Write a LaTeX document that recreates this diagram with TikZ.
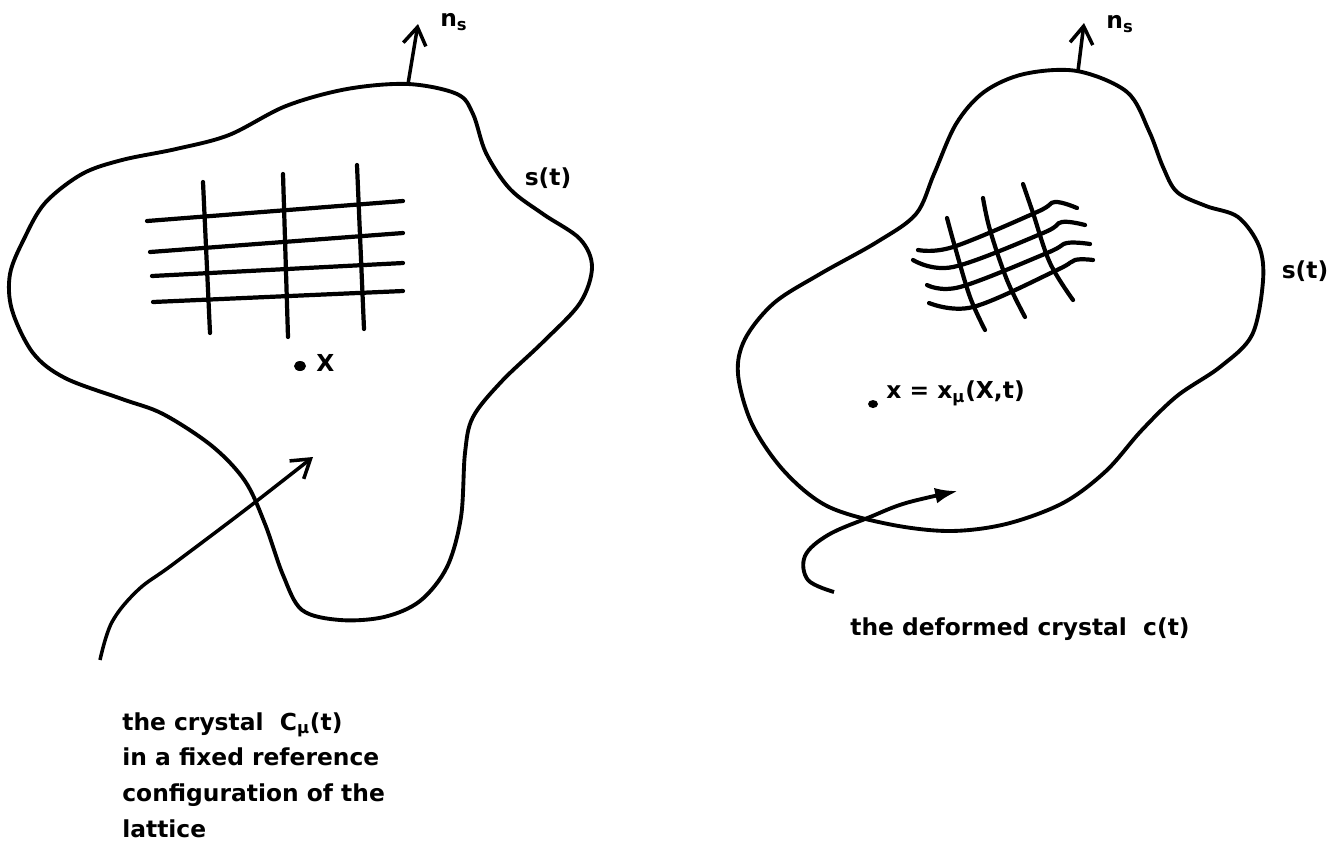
\documentclass[tikz,border=0pt]{standalone}
\usepackage{fontspec}
\setmainfont{DejaVu Sans}
\usetikzlibrary{arrows.meta}
\begin{document}
\begin{tikzpicture}[
    x=0.02cm,y=-0.02cm,
    outline/.style={line width=2.2pt,line join=round},
    gridline/.style={line width=2.4pt,line cap=round},
    pointer/.style={line width=2pt,-{Straight Barb[length=10pt,width=13pt,line width=2pt]}},
    lbl/.style={font=\bfseries\fontsize{13.3}{20.4}\selectfont,inner sep=0pt,align=left},
    >=stealth
]
\useasboundingbox (0,0) rectangle (1342,850);

% reference crystal
\draw[outline] plot[smooth cycle,tension=0.55] coordinates {
  (408,84) (457,94) (473,114) (486,153) (510,189) (543,214) (580,239)
  (592,267) (580,303) (543,342) (502,381) (473,417) (465,453) (461,517)
  (447,567) (420,601) (384,617) (340,620) (302,610) (283,575) (265,524) (245,481)
  (212,446) (163,414) (122,399) (65,378) (33,353) (12,310) (10,274)
  (24,239) (45,203) (82,174) (122,160) (176,149) (229,135) (286,106)
  (347,89)};
\foreach \xa/\ya/\yb in {147/221/201,150/252/233,152/276/263,153/302/291}
  \draw[gridline] (\xa,\ya) -- (403,\yb);
\foreach \xa/\ya/\xb/\yb in {203/182/210/333,283/174/288/337,357/165/364/329}
  \draw[gridline] (\xa,\ya) -- (\xb,\yb);

\coordinate (baseL) at (408,84);
\coordinate (topL) at (418,24);
\draw[pointer] (baseL) -- (topL);
\node[lbl,anchor=west] (nL) at (440,22) {n\textsubscript{s}};
\node[lbl] (sL) at (548,178) {s(t)};

\fill (300,366) ellipse (6 and 5);
\node[lbl,anchor=west] (XL) at (316,363) {X};

\coordinate (tailL) at (100,660);
\coordinate (tipL) at (313,457);
\draw[pointer] plot[smooth,tension=0.6] coordinates {
  (tailL) (112,622) (138,590) (172,565) (245,510) (tipL)};

\node[lbl,anchor=north west] (capL) at (122,712)
  {the crystal\ \ C\textsubscript{μ}(t)\\in a fixed reference\\configuration of the\\lattice};

% deformed crystal
\draw[outline] plot[smooth cycle,tension=0.55] coordinates {
  (1077,71) (1127,92) (1149,131) (1163,167) (1177,192) (1206,206)
  (1238,217) (1259,246) (1263,281) (1252,335) (1220,367) (1177,396)
  (1141,431) (1106,471) (1063,503) (1006,524) (949,531) (888,524)
  (827,506) (784,471) (752,424) (738,374) (745,339) (774,303) (820,274)
  (877,242) (916,214) (934,174) (956,124) (984,92) (1024,74)};
\foreach \pa/\pb/\pc/\pd/\pe in {
  {(918,250)}/{(953,247)}/{(1037,212)}/{(1055,202)}/{(1077,208)},
  {(913,260)}/{(953,267)}/{(1043,233)}/{(1062,222)}/{(1085,225)},
  {(927,285)}/{(960,287)}/{(1047,253)}/{(1067,243)}/{(1090,244)},
  {(929,303)}/{(973,307)}/{(1057,270)}/{(1075,260)}/{(1093,260)}}
  \draw[gridline] plot[smooth,tension=0.6] coordinates {\pa \pb \pc \pd \pe};
\foreach \pa/\pb/\pc/\pd in {
  {(947,218)}/{(955,247)}/{(970,297)}/{(985,330)},
  {(983,198)}/{(990,230)}/{(1007,280)}/{(1025,317)},
  {(1023,184)}/{(1033,213)}/{(1050,263)}/{(1073,300)}}
  \draw[gridline] plot[smooth,tension=0.6] coordinates {\pa \pb \pc \pd};

\coordinate (baseR) at (1078,71);
\coordinate (topR) at (1084,23);
\draw[pointer] (baseR) -- (topR);
\node[lbl,anchor=west] (nR) at (1106,24) {n\textsubscript{s}};
\node[lbl] (sR) at (1305,271) {s(t)};

\fill (873,404) ellipse (5 and 4);
\node[lbl,anchor=west] (xR) at (886,393) {x = x\textsubscript{μ}(X,t)};

\coordinate (tailR) at (834,592);
\coordinate (tipR) at (958,491);
\draw[line width=2.2pt,-{Latex[length=13pt,width=9pt]}] plot[smooth,tension=0.6] coordinates {
  (tailR) (808,580) (805,556) (828,535) (870,517) (906,503) (tipR)};

\node[lbl,anchor=base west] (capR) at (850,635) {the deformed crystal\ \ c(t)};
\end{tikzpicture}
\end{document}
